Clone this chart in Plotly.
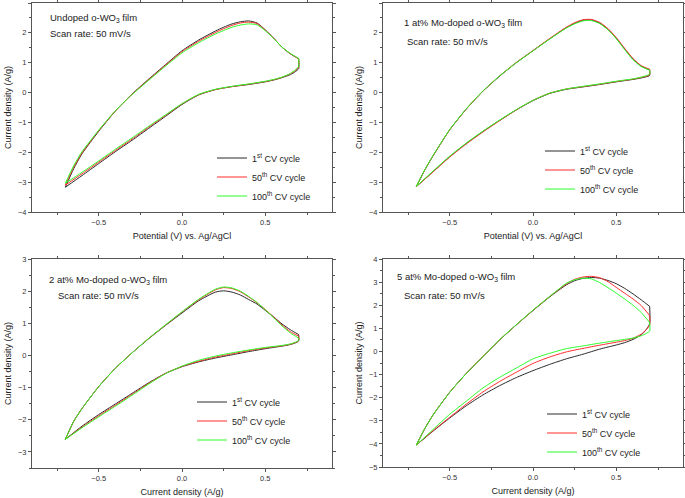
import plotly.graph_objects as go

# ---------------- data ----------------
V_UP = [-0.7, -0.65, -0.6, -0.5, -0.4, -0.3, -0.2, -0.1, 0.0, 0.1, 0.2, 0.25, 0.3,
        0.35, 0.4, 0.45, 0.5, 0.55, 0.6, 0.65, 0.7]
V_DOWN = [0.7, 0.68, 0.65, 0.6, 0.55, 0.5, 0.4, 0.3, 0.2, 0.1, 0.0, -0.1, -0.2,
          -0.3, -0.4, -0.5, -0.6, -0.7]

CYCLES = ["1<sup>st</sup> CV cycle", "50<sup>th</sup> CV cycle", "100<sup>th</sup> CV cycle"]
COLORS = ["#2a2a2a", "#ff2a2a", "#2aff2a"]

# Panel (a) undoped
A_UP = [
    [-3.17, -2.55, -2.05, -1.30, -0.62, -0.05, 0.45, 0.93, 1.40, 1.76, 2.06, 2.19, 2.30, 2.37, 2.40, 2.33, 2.10, 1.82, 1.52, 1.30, 1.13],
    [-3.10, -2.50, -2.02, -1.28, -0.62, -0.06, 0.43, 0.91, 1.37, 1.72, 2.01, 2.14, 2.25, 2.33, 2.36, 2.31, 2.09, 1.82, 1.52, 1.30, 1.13],
    [-3.04, -2.45, -1.98, -1.26, -0.61, -0.07, 0.41, 0.88, 1.33, 1.67, 1.96, 2.08, 2.19, 2.26, 2.30, 2.27, 2.07, 1.81, 1.52, 1.31, 1.15],
]
A_DOWN = [
    [0.80, 0.70, 0.60, 0.50, 0.42, 0.36, 0.27, 0.20, 0.10, -0.08, -0.40, -0.80, -1.20, -1.60, -1.98, -2.38, -2.78, -3.17],
    [0.85, 0.74, 0.63, 0.51, 0.43, 0.37, 0.28, 0.20, 0.10, -0.07, -0.38, -0.77, -1.16, -1.56, -1.94, -2.33, -2.72, -3.10],
    [0.88, 0.76, 0.64, 0.52, 0.44, 0.38, 0.29, 0.21, 0.11, -0.06, -0.37, -0.75, -1.13, -1.52, -1.90, -2.29, -2.67, -3.04],
]

# Panel (b) 1 at% Mo
B_UP = [
    [-3.15, -2.60, -2.12, -1.25, -0.55, 0.05, 0.55, 1.00, 1.40, 1.80, 2.17, 2.32, 2.42, 2.43, 2.33, 2.12, 1.82, 1.46, 1.12, 0.88, 0.76],
    [-3.15, -2.60, -2.12, -1.25, -0.55, 0.05, 0.56, 1.01, 1.41, 1.81, 2.19, 2.34, 2.44, 2.45, 2.35, 2.14, 1.84, 1.48, 1.14, 0.90, 0.78],
    [-3.14, -2.59, -2.11, -1.24, -0.54, 0.06, 0.56, 1.00, 1.40, 1.79, 2.16, 2.30, 2.40, 2.41, 2.31, 2.10, 1.80, 1.44, 1.10, 0.87, 0.75],
]
B_DOWN = [
    [0.57, 0.53, 0.49, 0.44, 0.40, 0.36, 0.27, 0.19, 0.11, -0.03, -0.27, -0.58, -0.93, -1.30, -1.70, -2.15, -2.65, -3.15],
    [0.60, 0.55, 0.51, 0.45, 0.41, 0.37, 0.28, 0.20, 0.12, -0.02, -0.26, -0.58, -0.94, -1.32, -1.72, -2.16, -2.66, -3.15],
    [0.62, 0.57, 0.52, 0.46, 0.42, 0.38, 0.29, 0.21, 0.12, -0.02, -0.26, -0.57, -0.92, -1.29, -1.69, -2.13, -2.63, -3.14],
]

# Panel (c) 2 at% Mo
C_UP = [
    [-2.61, -2.05, -1.65, -0.97, -0.40, 0.08, 0.52, 0.93, 1.32, 1.70, 1.97, 2.01, 1.97, 1.88, 1.74, 1.60, 1.40, 1.20, 0.98, 0.80, 0.65],
    [-2.61, -2.05, -1.65, -0.97, -0.40, 0.08, 0.53, 0.94, 1.35, 1.73, 2.04, 2.11, 2.08, 1.98, 1.82, 1.64, 1.43, 1.19, 0.95, 0.74, 0.60],
    [-2.61, -2.05, -1.65, -0.97, -0.40, 0.08, 0.53, 0.95, 1.36, 1.75, 2.06, 2.13, 2.10, 2.00, 1.84, 1.65, 1.42, 1.17, 0.92, 0.70, 0.54],
]
C_DOWN = [
    [0.45, 0.39, 0.34, 0.29, 0.25, 0.21, 0.12, 0.02, -0.08, -0.20, -0.35, -0.56, -0.85, -1.18, -1.51, -1.84, -2.20, -2.61],
    [0.46, 0.40, 0.35, 0.30, 0.27, 0.23, 0.15, 0.05, -0.05, -0.18, -0.34, -0.56, -0.87, -1.21, -1.55, -1.88, -2.23, -2.61],
    [0.47, 0.41, 0.36, 0.31, 0.28, 0.25, 0.17, 0.08, -0.02, -0.15, -0.33, -0.57, -0.89, -1.24, -1.58, -1.91, -2.25, -2.61],
]

# Panel (d) 5 at% Mo
D_UP = [
    [-4.05, -3.35, -2.75, -1.77, -0.95, -0.22, 0.50, 1.15, 1.77, 2.36, 2.88, 3.06, 3.16, 3.20, 3.17, 3.07, 2.93, 2.73, 2.49, 2.23, 1.95],
    [-4.05, -3.35, -2.75, -1.77, -0.95, -0.22, 0.50, 1.15, 1.78, 2.38, 2.92, 3.12, 3.22, 3.25, 3.19, 3.02, 2.77, 2.52, 2.27, 1.98, 1.55],
    [-4.05, -3.35, -2.75, -1.77, -0.95, -0.22, 0.51, 1.16, 1.79, 2.38, 2.95, 3.10, 3.17, 3.14, 2.98, 2.76, 2.52, 2.27, 2.00, 1.68, 1.25],
]
D_DOWN = [
    [1.20, 0.95, 0.72, 0.52, 0.38, 0.28, 0.10, -0.12, -0.32, -0.56, -0.83, -1.13, -1.48, -1.88, -2.35, -2.88, -3.45, -4.05],
    [1.15, 0.95, 0.75, 0.57, 0.47, 0.40, 0.27, 0.13, -0.02, -0.24, -0.52, -0.90, -1.30, -1.75, -2.28, -2.85, -3.43, -4.05],
    [0.88, 0.78, 0.68, 0.58, 0.52, 0.47, 0.36, 0.24, 0.12, -0.08, -0.32, -0.72, -1.12, -1.58, -2.15, -2.72, -3.38, -4.05],
]

PANELS = [
    dict(up=A_UP, down=A_DOWN, title="Undoped o-WO<sub>3</sub> film", xtitle="Potential (V) vs. Ag/AgCl", yr=[-4, 3]),
    dict(up=B_UP, down=B_DOWN, title="1 at% Mo-doped o-WO<sub>3</sub> film", xtitle="Potential (V) vs. Ag/AgCl", yr=[-4, 3]),
    dict(up=C_UP, down=C_DOWN, title="2 at% Mo-doped o-WO<sub>3</sub> film", xtitle="Current density (A/g)", yr=[-3.5, 3]),
    dict(up=D_UP, down=D_DOWN, title="5 at% Mo-doped o-WO<sub>3</sub> film", xtitle="Current density (A/g)", yr=[-5, 4]),
]
SCAN = "Scan rate: 50 mV/s"
YTITLE = "Current density (A/g)"

# ---------------- layout geometry (pixels in 685x498) ----------------
W, H = 685, 498
XDOM = [(32, 332), (383, 683), (32, 332), (383, 683)]
YDOM = [(3, 212), (3, 212), (259, 468), (259, 467)]
TITLE_POS = [(48, 18), (402, 23), (47, 280), (395, 277)]
SCAN_POS = [(48, 34), (405, 42), (56, 295), (402, 295)]
LEG_POS = [(212, 177), (540, 170), (192, 421), (542, 433)]

FONT = "Liberation Sans, Arial, sans-serif"
fig = go.Figure()
annotations = []
for p, panel in enumerate(PANELS):
    sfx = "" if p == 0 else str(p + 1)
    for c in range(3):
        up = panel["up"][c]
        down = panel["down"][c]
        common = dict(mode="lines", name=CYCLES[c], legendgroup=f"p{p}c{c}",
                      line=dict(color=COLORS[c], width=1, shape="spline", smoothing=0.6),
                      xaxis="x" + sfx, yaxis="y" + sfx, legend="legend" + sfx)
        # anodic sweep
        fig.add_trace(go.Scatter(x=V_UP, y=up, showlegend=True, **common))
        # cathodic sweep (starts where the anodic sweep ended)
        fig.add_trace(go.Scatter(x=[V_UP[-1]] + V_DOWN, y=[up[-1]] + down, showlegend=False, **common))
    x0, x1 = XDOM[p]
    y0, y1 = YDOM[p]
    axis_common = dict(showline=True, linecolor="#555", linewidth=1, mirror="ticks",
                       ticks="outside", ticklen=3, tickcolor="#555", showgrid=False,
                       zeroline=False, automargin=False,
                       tickfont=dict(family=FONT, size=7.5, color="#333"))
    fig.update_layout({
        "xaxis" + sfx: dict(domain=[x0 / W, x1 / W], anchor="y" + sfx, range=[-0.9, 0.9],
                            tick0=0, dtick=0.5, tickformat=".1f",
                            minor=dict(dtick=0.25, ticks="outside", ticklen=2, tickcolor="#555"),
                            title=dict(text=panel["xtitle"], font=dict(family=FONT, size=9, color="#222"), standoff=6),
                            **axis_common),
        "yaxis" + sfx: dict(domain=[1 - y1 / H, 1 - y0 / H], anchor="x" + sfx, range=panel["yr"],
                            tick0=0, dtick=1,
                            minor=dict(dtick=0.5, ticks="outside", ticklen=2, tickcolor="#555"),
                            title=dict(text=YTITLE, font=dict(family=FONT, size=9, color="#222"), standoff=4),
                            **axis_common),
        "legend" + sfx: dict(x=LEG_POS[p][0] / W, y=1 - LEG_POS[p][1] / H, xanchor="left", yanchor="middle",
                             bgcolor="rgba(0,0,0,0)", itemwidth=30, tracegroupgap=0,
                             font=dict(family=FONT, size=9, color="#222")),
    })
    tx, ty = TITLE_POS[p]
    sx, sy = SCAN_POS[p]
    annotations.append(dict(text=panel["title"], x=tx / W, y=1 - ty / H, xref="paper", yref="paper",
                            xanchor="left", yanchor="middle", showarrow=False,
                            font=dict(family=FONT, size=9.5, color="#222")))
    annotations.append(dict(text=SCAN, x=sx / W, y=1 - sy / H, xref="paper", yref="paper",
                            xanchor="left", yanchor="middle", showarrow=False,
                            font=dict(family=FONT, size=9.5, color="#222")))

fig.update_layout(width=W, height=H, margin=dict(l=0, r=0, t=0, b=0, autoexpand=False),
                  paper_bgcolor="white", plot_bgcolor="white",
                  annotations=annotations, showlegend=True)
# remove the browser's default 8px page margin so the figure fills the window exactly
fig.write_html("out.html", config={"displayModeBar": False},
               post_script="document.body.style.margin='0';document.body.style.padding='0';")
